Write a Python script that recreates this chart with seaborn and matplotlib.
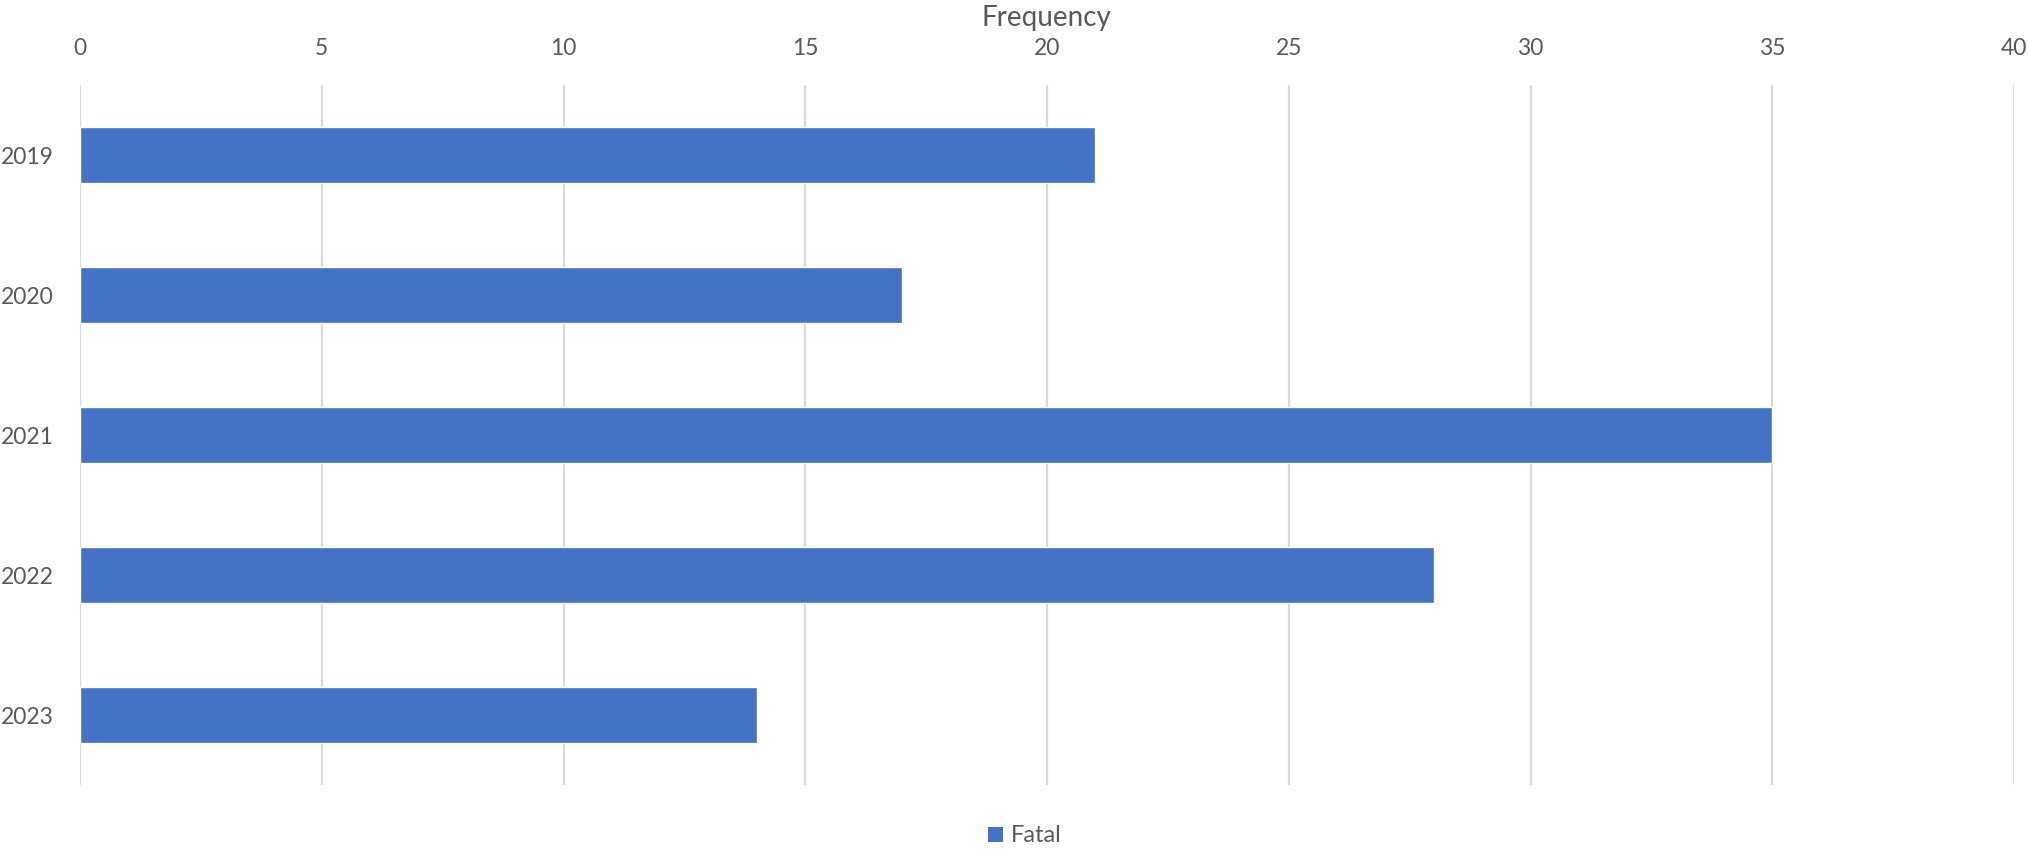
import matplotlib
matplotlib.use("Agg")
import matplotlib.pyplot as plt
import seaborn as sns
import pandas as pd
from matplotlib.patches import Patch

years = ["2019", "2020", "2021", "2022", "2023"]
fatal = [21, 17, 35, 28, 14]
xticks = [0, 5, 10, 15, 20, 25, 30, 35, 40]
series_name = "Fatal"
axis_title = "Frequency"

df = pd.DataFrame({"Year": years, "Fatal": fatal})

sns.set_theme(style="white")
plt.rcParams["font.family"] = ["Lato", "DejaVu Sans"]

W, H = 2028, 851
fig = plt.figure(figsize=(W / 100, H / 100), dpi=100)
ax = fig.add_axes([80 / W, 1 - 785 / H, (2014 - 80) / W, 700 / H])

bar_color = "#4472C4"
text_color = "#595959"
grid_color = "#D9D9D9"

sns.barplot(data=df, x="Fatal", y="Year", orient="h", color=bar_color,
            width=0.4, ax=ax, zorder=3, saturation=1)

ax.set_xlim(0, 40)
ax.set_ylim(4.5, -0.5)
ax.set_xticks(xticks)
ax.xaxis.tick_top()
ax.grid(axis="x", color=grid_color, linewidth=1.6, zorder=0)
ax.set_axisbelow(True)
for s in ax.spines.values():
    s.set_visible(False)
ax.tick_params(axis="x", length=0, pad=19, labelsize=16.5, labelcolor=text_color)
ax.tick_params(axis="y", length=0, pad=19, labelsize=16.5, labelcolor=text_color)
ax.set_xlabel("")
ax.set_ylabel("")

fig.text(1046 / W, 1 - 18 / H, axis_title, ha="center", va="center",
         fontsize=20, color=text_color)

handle = Patch(facecolor=bar_color, edgecolor="none", label=series_name)
fig.legend(handles=[handle], loc="center", bbox_to_anchor=(1025 / W, 1 - 836 / H),
           frameon=False, fontsize=17, labelcolor=text_color,
           handlelength=0.6, handleheight=0.6, handletextpad=0.35)

fig.savefig("out.png", dpi=100, facecolor="white")
